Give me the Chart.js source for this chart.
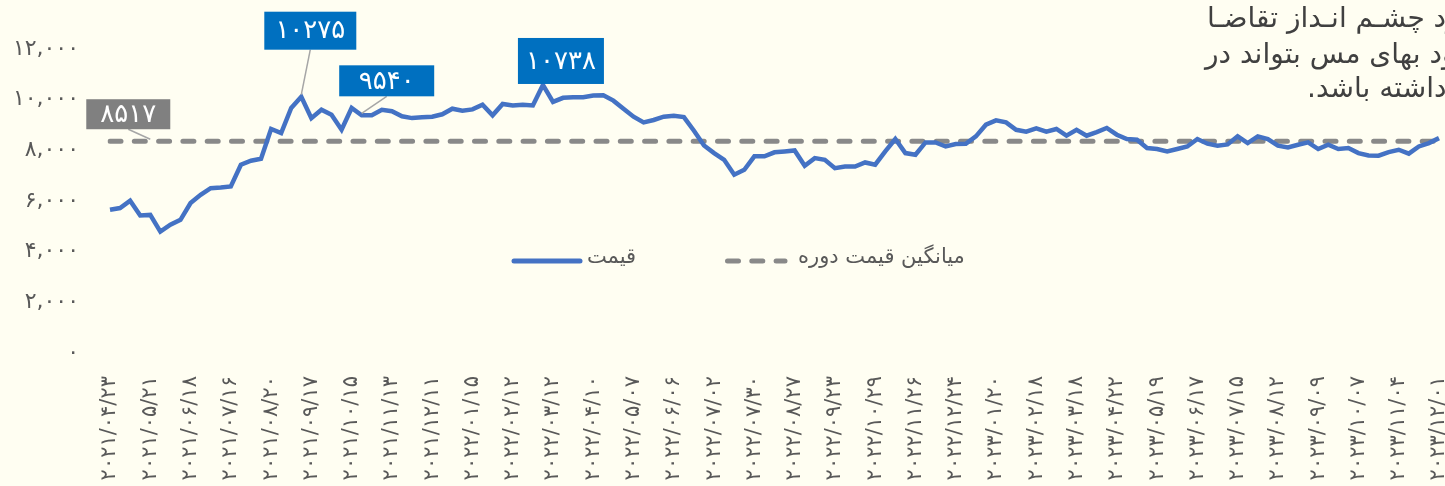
<!DOCTYPE html>
<html>
<head>
<meta charset="utf-8">
<script src="https://cdn.jsdelivr.net/npm/chart.js@4.4.1/dist/chart.umd.min.js"></script>
<style>
  html, body { margin: 0; padding: 0; background: #FFFEF2; overflow: hidden; }
  #wrap { position: relative; width: 1480px; height: 486px; }
  .note div {
    position: absolute; white-space: nowrap; direction: rtl;
    font-family: "DejaVu Sans", sans-serif; font-size: 28px; line-height: 35px; color: #404040;
  }
</style>
</head>
<body>
<div id="wrap">
  <canvas id="copperChart"></canvas>
  <div class="note">
    <div style="left:1207px; top:0px;">با بهبود چشـم انـداز تقاضـا</div>
    <div style="left:1205px; top:36px;">انتظار می‌رود بهای مس بتواند در</div>
    <div style="left:1307px; top:70px;">سال آینده روند صعودی داشته باشد.</div>
  </div>
</div>
<script>
// برچسب تاریخ‌ها (هر چهار هفته یک برچسب)
const dateLabels = ['2021/04/23', '2021/05/21', '2021/06/18', '2021/07/16', '2021/08/20', '2021/09/17',
  '2021/10/15', '2021/11/13', '2021/12/11', '2022/01/15', '2022/02/12', '2022/03/12', '2022/04/10',
  '2022/05/07', '2022/06/06', '2022/07/02', '2022/07/30', '2022/08/27', '2022/09/23', '2022/10/29',
  '2022/11/26', '2022/12/24', '2023/01/20', '2023/02/18', '2023/03/18', '2023/04/22', '2023/05/19',
  '2023/06/17', '2023/07/15', '2023/08/12', '2023/09/09', '2023/10/07', '2023/11/04', '2023/12/01'];

// قیمت هفتگی مس
const prices = [
  5810, 5880, 6170, 5585, 5610, 4950, 5220, 5415, 6075, 6400,
  6665, 6690, 6730, 7590, 7750, 7825, 9000, 8840, 9830, 10275,
  9430, 9760, 9560, 8970, 9830, 9540, 9540, 9760, 9700, 9500,
  9430, 9460, 9485, 9580, 9800, 9720, 9775, 9960, 9540, 9990,
  9930, 9960, 9930, 10738, 10070, 10230, 10250, 10250, 10320, 10330,
  10120, 9800, 9485, 9260, 9355, 9485, 9525, 9470, 8930, 8350,
  8050, 7785, 7195, 7390, 7920, 7920, 8080, 8115, 8155, 7550,
  7850, 7785, 7455, 7520, 7520, 7680, 7590, 8115, 8605, 8050,
  7985, 8470, 8470, 8310, 8405, 8420, 8710, 9170, 9340, 9260,
  8970, 8895, 9025, 8895, 9000, 8735, 8970, 8735, 8880, 9040,
  8775, 8605, 8575, 8250, 8210, 8115, 8210, 8310, 8605, 8420,
  8340, 8390, 8710, 8445, 8710, 8605, 8340, 8275, 8380, 8470,
  8210, 8380, 8210, 8250, 8050, 7955, 7945, 8090, 8180, 8025,
  8310, 8445, 8640
];

// میانگین قیمت دوره
const avgPrice = 8517;
const avgLine = prices.map(() => avgPrice);

// تبدیل ارقام به فارسی
const fa = s => String(s).replace(/\d/g, d => '۰۱۲۳۴۵۶۷۸۹'[d]);

const labels = prices.map((p, i) => (i % 4 === 0 && dateLabels[i / 4]) ? fa(dateLabels[i / 4]) : '');

const fontFa = 'DejaVu Sans';
const textGray = '#595959';

// برچسب‌های روی نمودار
const callouts = [
  { ds: 0, idx: 19, bg: '#0070C0', dx: 9, top: -85, w: 92, h: 38, leader: true },
  { ds: 0, idx: 25, bg: '#0070C0', dx: 25, top: -50, w: 95, h: 31, leader: true },
  { ds: 0, idx: 43, bg: '#0070C0', dx: 18, top: -47, w: 86, h: 46, leader: false },
  { ds: 1, idx: 4, bg: '#808080', dx: -22, top: -42, w: 84, h: 30, leader: true }
];

const calloutPlugin = {
  id: 'callouts',
  afterDatasetsDraw(chart) {
    const ctx = chart.ctx;
    ctx.save();
    callouts.forEach(c => {
      const pt = chart.getDatasetMeta(c.ds).data[c.idx];
      const value = chart.data.datasets[c.ds].data[c.idx];
      const cx = pt.x + c.dx;
      const top = pt.y + c.top;
      if (c.leader) {
        ctx.strokeStyle = '#A6A6A6';
        ctx.lineWidth = 1.5;
        ctx.beginPath();
        ctx.moveTo(cx, top + c.h);
        ctx.lineTo(pt.x, pt.y - 2);
        ctx.stroke();
      }
      ctx.fillStyle = c.bg;
      ctx.fillRect(cx - c.w / 2, top, c.w, c.h);
      ctx.fillStyle = '#FFFFFF';
      ctx.font = '26px "' + fontFa + '"';
      ctx.textAlign = 'center';
      ctx.textBaseline = 'middle';
      ctx.fillText(fa(value), cx, top + c.h / 2 + 1);
    });
    ctx.restore();
  }
};

// راهنمای نمودار داخل ناحیه رسم
const legendItems = [
  { text: 'قیمت', color: '#4472C4', dash: [], x1: 514, x2: 580, tx: 587 },
  { text: 'میانگین قیمت دوره', color: '#898989', dash: [11, 13.3], x1: 727.5, x2: 785, tx: 798 }
];

const legendPlugin = {
  id: 'innerLegend',
  afterDraw(chart) {
    const ctx = chart.ctx;
    ctx.save();
    legendItems.forEach(item => {
      ctx.strokeStyle = item.color;
      ctx.lineWidth = 5;
      ctx.lineCap = 'round';
      ctx.setLineDash(item.dash);
      ctx.beginPath();
      ctx.moveTo(item.x1, 261);
      ctx.lineTo(item.x2, 261);
      ctx.stroke();
      ctx.setLineDash([]);
      ctx.fillStyle = textGray;
      ctx.font = '21px "' + fontFa + '"';
      ctx.textAlign = 'left';
      ctx.textBaseline = 'middle';
      ctx.fillText(item.text, item.tx, 258);
    });
    ctx.restore();
  }
};

const chartData = {
  labels: labels,
  datasets: [{
    label: 'قیمت',
    data: prices,
    borderColor: '#4472C4',
    borderWidth: 4.5,
    pointRadius: 0,
    fill: false
  }, {
    label: 'میانگین قیمت دوره',
    data: avgLine,
    borderColor: '#898989',
    borderWidth: 5,
    borderDash: [11, 13.3],
    borderCapStyle: 'round',
    pointRadius: 0,
    fill: false
  }]
};

const chartConfig = {
  type: 'line',
  data: chartData,
  options: {
    responsive: true,
    maintainAspectRatio: false,
    animation: false,
    layout: { padding: { top: 53, right: 41, left: 0, bottom: 0 } },
    plugins: {
      legend: { display: false },
      tooltip: { enabled: false }
    },
    scales: {
      x: {
        offset: false,
        grid: { display: false },
        border: { display: false },
        ticks: {
          autoSkip: false,
          maxRotation: 90,
          minRotation: 90,
          padding: 11,
          color: textGray,
          font: { family: fontFa, size: 21 }
        },
        afterFit: s => { s.height = 129; }
      },
      y: {
        min: 0,
        max: 12000,
        grid: { display: false },
        border: { display: false },
        ticks: {
          stepSize: 2000,
          padding: 23,
          labelOffset: -4,
          color: textGray,
          font: { family: fontFa, size: 22 },
          callback: v => fa(v.toLocaleString('en-US'))
        },
        afterFit: s => { s.width = 110; }
      }
    }
  },
  plugins: [calloutPlugin, legendPlugin]
};

const ctx = document.getElementById('copperChart').getContext('2d');
new Chart(ctx, chartConfig);
</script>
</body>
</html>
